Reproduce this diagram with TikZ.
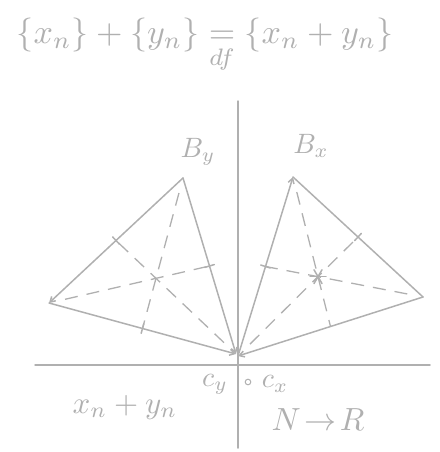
\documentclass[tikz,border=0pt]{standalone}
\usepackage{amsmath,amssymb}
\usepackage{xcolor}
\usetikzlibrary{positioning,arrows.meta,calc}
\definecolor{pencil}{RGB}{176,176,176}

\begin{document}
\begin{tikzpicture}[x=1pt,y=-1pt,
    sketch/.style={pencil,line width=1.5pt,line cap=round},
    median/.style={pencil,line width=1.3pt,dash pattern=on 13pt off 9pt},
    tip/.style={-{Straight Barb[length=5pt,width=6pt]}},
    lbl/.style={text=pencil,inner sep=0pt}]
  \useasboundingbox (0,0) rectangle (439,452);
  % definition of the sum
  \node[lbl,scale=3.4] (defsum) at (205,46)
    {$\{x_n\}+\{y_n\}\underset{df}{=}\{x_n+y_n\}$};
  % axes
  \coordinate (xl) at (35,365);
  \coordinate (xr) at (430,365);
  \coordinate (yt) at (238,101);
  \coordinate (yb) at (238,448);
  \draw[sketch] (xl) -- (xr);
  \draw[sketch] (yt) -- (yb);
  % vertices of the two triangles
  \coordinate (By) at (183,178);
  \coordinate (Ly) at (49,303);
  \coordinate (Oy) at (236,354);
  \coordinate (Bx) at (293,177);
  \coordinate (Rx) at (423,297);
  \coordinate (Ox) at (238,356);
  % triangle of y
  \draw[sketch,tip] (By) -- (Ly);
  \draw[sketch,tip] (Ly) -- (Oy);
  \draw[sketch,tip] (By) -- (Oy);
  % triangle of x
  \draw[sketch,tip] (Ox) -- (Bx);
  \draw[sketch] (Bx) -- (Rx);
  \draw[sketch,tip] (Rx) -- (Ox);
  % medians
  \foreach \a/\b/\c in {By/Ly/Oy,Ly/Oy/By,Oy/By/Ly,Bx/Rx/Ox,Rx/Ox/Bx,Ox/Bx/Rx}
    \draw[median] ($(\a)!0.1!($(\b)!0.5!(\c)$)$) -- ($(\b)!0.5!(\c)$);
  % ticks at the midpoints
  \foreach \a/\b in {By/Ly,Ly/Oy,Oy/By,Ox/Bx,Bx/Rx}
    \draw[sketch] ($(\a)!0.5!(\b)!5pt!90:(\b)$) -- ($(\a)!0.5!(\b)!5pt!-90:(\b)$);
  % star at the centre of the triangle of x
  \coordinate (Sx) at ($1/3*(Bx)+1/3*(Rx)+1/3*(Ox)$);
  \foreach \t in {0,60,120}
    \draw[sketch] ($(Sx)+(\t:8)$) -- ($(Sx)+(\t+180:8)$);
  % labels
  \node[lbl,scale=2.8] (lBy) at (198,152) {$B_y$};
  \node[lbl,scale=2.8] (lBx) at (311,146) {$B_x$};
  \node[lbl,scale=2.8] (lcy) at (215,384) {$c_y$};
  \draw[pencil,line width=1pt] (248,382) circle (2.8);
  \node[lbl,scale=2.8] (lcx) at (275,384) {$c_x$};
  \node[lbl,scale=3.1] (lsum) at (125,407) {$x_n+y_n$};
  \node[lbl,scale=3.2] (lmap) at (318,420) {$N\!\to\! R$};
\end{tikzpicture}
\end{document}
